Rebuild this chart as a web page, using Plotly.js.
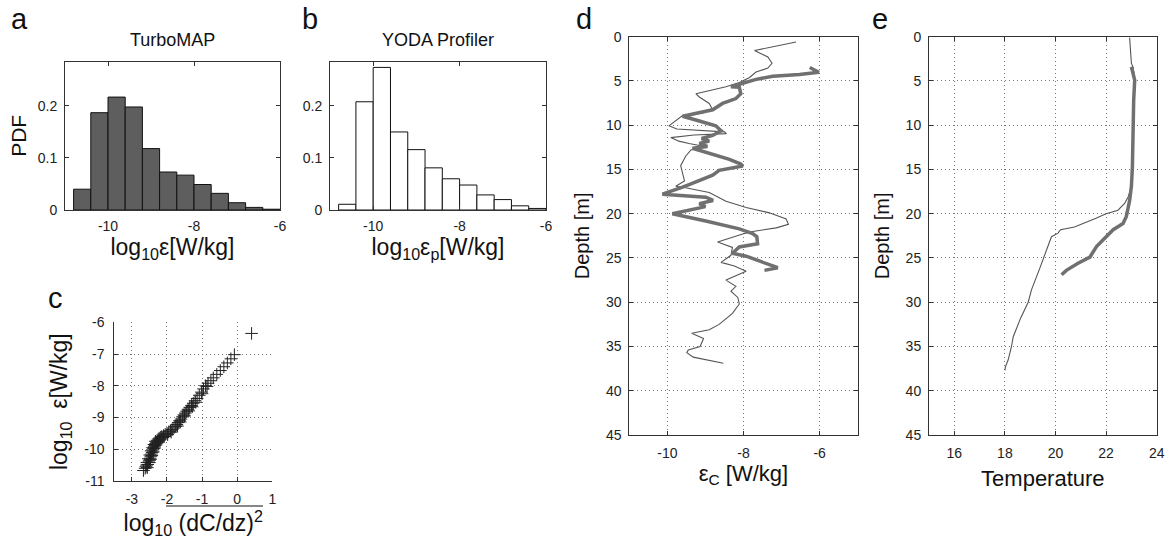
<!DOCTYPE html>
<html>
<head>
<meta charset="utf-8">
<script src="https://cdn.plot.ly/plotly-3.0.1.min.js"></script>
<style>html,body{margin:0;padding:0;background:#fff;}#chart{width:1171px;height:545px;}</style>
</head>
<body>
<div id="chart"></div>
<script>
// ---------- DATA ----------
// Histogram bins (log10 epsilon), centers of 0.4-wide bins
const binCenters = [-10.6, -10.2, -9.8, -9.4, -9.0, -8.6, -8.2, -7.8, -7.4, -7.0, -6.6, -6.2];
const turboPDF   = [0.040, 0.187, 0.217, 0.198, 0.118, 0.073, 0.067, 0.049, 0.032, 0.014, 0.005, 0.0015];
const yodaPDF    = [0.011, 0.208, 0.274, 0.150, 0.116, 0.081, 0.060, 0.048, 0.029, 0.020, 0.008, 0.003];

// Panel c: log10 (dC/dz)^2 vs log10 epsilon
const cGrad = [-2.67,-2.62,-2.60,-2.56,-2.58,-2.55,-2.57,-2.52,-2.50,-2.50,-2.53,-2.48,-2.47,-2.46,-2.49,-2.44,-2.43,-2.42,-2.45,-2.40,-2.39,-2.38,-2.41,-2.36,-2.35,-2.34,-2.37,-2.32,-2.31,-2.30,-2.33,-2.28,-2.27,-2.25,-2.24,-2.22,-2.20,-2.18,-2.15,-2.12,-2.10,-2.08,-2.05,-2.00,-1.98,-1.95,-1.90,-1.88,-1.85,-1.80,-1.76,-1.72,-1.70,-1.68,-1.64,-1.62,-1.60,-1.56,-1.52,-1.50,-1.48,-1.44,-1.40,-1.38,-1.35,-1.30,-1.28,-1.25,-1.20,-1.18,-1.14,-1.08,-1.02,-1.00,-0.96,-0.90,-0.86,-0.83,-0.75,-0.68,-0.58,-0.48,-0.38,-0.28,-0.18,-0.08,0.41];
const cEps  = [-10.67,-10.60,-10.55,-10.58,-10.50,-10.48,-10.42,-10.40,-10.35,-10.42,-10.30,-10.28,-10.32,-10.22,-10.18,-10.15,-10.20,-10.10,-10.05,-10.02,-10.08,-9.98,-9.95,-9.92,-9.96,-9.88,-9.85,-9.82,-9.86,-9.78,-9.75,-9.72,-9.78,-9.68,-9.74,-9.65,-9.70,-9.62,-9.60,-9.63,-9.57,-9.60,-9.53,-9.50,-9.54,-9.45,-9.42,-9.46,-9.38,-9.33,-9.28,-9.22,-9.27,-9.16,-9.10,-9.14,-9.05,-8.98,-8.92,-8.95,-8.86,-8.80,-8.74,-8.79,-8.68,-8.62,-8.66,-8.55,-8.47,-8.52,-8.40,-8.30,-8.20,-8.25,-8.10,-8.00,-8.02,-7.92,-7.84,-7.75,-7.64,-7.52,-7.40,-7.28,-7.15,-7.02,-6.35];

// Panel d: epsilon_C profiles (log10 W/kg) vs depth
const dThinDepth = [0.6,1.56,2.28,3.0,3.55,3.99,4.64,5.18,5.65,6.09,6.45,6.81,7.54,8.26,8.62,8.9,9.71,10.07,10.43,10.75,10.95,11.1,11.4,11.8,12.07,12.43,12.79,13.5,14.57,15.64,16.3,16.89,17.07,17.6,18.6,19.3,19.9,20.6,21.2,21.6,22.0,22.3,23.2,23.8,24.7,25.5,25.9,26.5,27.5,28.2,28.75,29.46,30.2,31.25,32.5,33.1,33.5,34.1,35.0,35.4,35.7,36.2,36.5,36.9];
const dThinEps   = [-6.62,-7.71,-7.36,-7.25,-7.36,-7.67,-7.85,-8.11,-8.46,-8.86,-9.25,-9.16,-8.9,-8.81,-9.08,-9.6,-9.87,-9.96,-9.75,-8.5,-8.45,-9.3,-9.91,-9.7,-9.43,-8.99,-9.38,-9.52,-9.65,-9.6,-9.55,-9.78,-9.52,-8.9,-8.46,-7.93,-7.32,-6.88,-6.82,-7.14,-7.76,-8.02,-8.68,-8.29,-8.33,-8.59,-8.24,-7.93,-8.46,-8.2,-8.33,-8.15,-8.11,-8.29,-8.64,-8.9,-9.36,-9.05,-9.14,-9.45,-9.49,-9.32,-8.96,-8.53];
const dThickDepth = [3.48,4.02,4.28,4.46,4.82,5.36,5.65,5.72,6.45,6.99,7.54,8.26,8.7,8.99,9.53,10.07,10.62,11.16,11.5,11.8,12.07,12.4,12.6,13.32,13.86,14.39,14.6,15.1,15.64,16.71,17.0,17.79,18.14,18.5,18.86,19.2,20.0,20.82,21.71,22.25,22.6,23.4,23.75,24.46,24.8,25.9,26.1,26.4];
const dThickEps   = [-6.26,-6.02,-6.53,-7.23,-7.67,-8.11,-8.33,-8.11,-8.07,-8.2,-8.55,-8.81,-9.25,-9.6,-9.16,-8.73,-8.59,-8.81,-9.1,-8.9,-9.16,-8.95,-9.34,-8.81,-8.37,-8.07,-8.02,-8.64,-8.81,-9.43,-9.6,-10.13,-8.99,-8.8,-9.16,-9.0,-9.87,-8.99,-8.11,-7.76,-7.65,-7.63,-8.11,-8.29,-7.93,-7.23,-7.1,-7.45];

// Panel e: temperature profiles vs depth
const eThinDepth = [0.1,1.5,3.0,3.5,5.0,7.0,10.0,14.0,17.0,18.1,18.8,19.6,20.0,20.5,21.0,21.5,21.8,22.2,22.6,24.5,26.0,28.6,30.0,31.8,33.9,35.0,36.5,37.3,37.7];
const eThinTemp  = [22.93,22.96,23.0,23.07,23.14,23.1,23.07,23.04,23.0,22.87,22.74,22.47,22.0,21.6,21.2,20.75,20.2,20.1,19.84,19.6,19.4,19.05,18.92,18.62,18.33,18.26,18.13,18.02,18.0];
const eThickDepth = [3.4,4.9,7.2,10.9,14.7,16.9,18.5,20.3,21.1,21.8,22.8,23.7,24.9,25.6,26.4,26.9];
const eThickTemp  = [23.0,23.13,23.09,23.07,23.04,23.0,22.93,22.8,22.67,22.28,21.95,21.62,21.36,20.89,20.43,20.24];

// Tick labels
const histXTicks = [-10, -8, -6];
const histXText  = ['-10', '-8', '-6'];
const pdfTicks   = [0, 0.1, 0.2];
const pdfText    = ['0', '0.1', '0.2'];
const cXTicks = [-3, -2, -1, 0, 1];
const cXText  = ['-3', '-2', '-1', '0', '1'];
const cYTicks = [-11, -10, -9, -8, -7, -6];
const cYText  = ['-11', '-10', '-9', '-8', '-7', '-6'];
const dXTicks = [-10, -8, -6];
const dXText  = ['-10', '-8', '-6'];
const depthTicks = [0, 5, 10, 15, 20, 25, 30, 35, 40, 45];
const eXTicks = [16, 18, 20, 22, 24];

// ---------- PLOT ----------
const W = 1171, H = 545;
const FONT = 'Liberation Sans, Arial, Helvetica, sans-serif';
const px = v => v / W;
const py = v => 1 - v / H;

const traces = [
  {type: 'bar', x: binCenters, y: turboPDF, width: 0.4, xaxis: 'x', yaxis: 'y',
   marker: {color: '#5e5e5e', line: {color: '#111', width: 1}}},
  {type: 'bar', x: binCenters, y: yodaPDF, width: 0.4, xaxis: 'x2', yaxis: 'y2',
   marker: {color: '#ffffff', line: {color: '#111', width: 1}}},
  {type: 'scatter', mode: 'markers', x: cGrad, y: cEps, xaxis: 'x3', yaxis: 'y3',
   marker: {symbol: 'cross-thin-open', size: 9, color: '#222', line: {width: 1, color: '#222'}}},
  {type: 'scatter', mode: 'lines', x: dThinEps, y: dThinDepth, xaxis: 'x4', yaxis: 'y4',
   line: {color: '#555', width: 1.1}},
  {type: 'scatter', mode: 'lines', x: dThickEps, y: dThickDepth, xaxis: 'x4', yaxis: 'y4',
   line: {color: '#707070', width: 3.5}},
  {type: 'scatter', mode: 'lines', x: eThinTemp, y: eThinDepth, xaxis: 'x5', yaxis: 'y5',
   line: {color: '#555', width: 1.1}},
  {type: 'scatter', mode: 'lines', x: eThickTemp, y: eThickDepth, xaxis: 'x5', yaxis: 'y5',
   line: {color: '#707070', width: 3.5}}
];

const tickFont = {family: FONT, size: 14, color: '#222'};
const tf = s => ({family: FONT, size: s, color: '#111'});

function ax(extra) {
  return Object.assign({
    showline: true, linecolor: '#333', linewidth: 1, mirror: 'ticks',
    ticks: 'inside', ticklen: 4, tickcolor: '#333', tickfont: tickFont,
    zeroline: false, showgrid: false, fixedrange: true, tickmode: 'array'
  }, extra);
}
const gridOpts = {showgrid: true, gridcolor: '#777', griddash: '1px,3px', gridwidth: 1};

const layout = {
  width: W, height: H,
  margin: {l: 0, r: 0, t: 0, b: 0},
  paper_bgcolor: '#fff', plot_bgcolor: '#fff',
  showlegend: false, bargap: 0,
  font: {family: FONT, color: '#111'},
  xaxis: ax({domain: [px(65), px(280)], range: [-11, -6], anchor: 'y',
    tickvals: histXTicks, ticktext: histXText, ticklabelstandoff: 3,
    title: {text: 'log<sub>10</sub>ε[W/kg]', font: tf(23), standoff: 0}}),
  yaxis: ax({domain: [py(210), py(61.7)], range: [0, 0.285], anchor: 'x',
    tickvals: pdfTicks, ticktext: pdfText, ticklabelstandoff: 4,
    title: {text: 'PDF', font: tf(21), standoff: 5}}),
  xaxis2: ax({domain: [px(330), px(546)], range: [-11, -6], anchor: 'y2',
    tickvals: histXTicks, ticktext: histXText, ticklabelstandoff: 3,
    title: {text: 'log<sub>10</sub>ε<sub>p</sub>[W/kg]', font: tf(23), standoff: 0}}),
  yaxis2: ax({domain: [py(210), py(61.7)], range: [0, 0.285], anchor: 'x2',
    tickvals: pdfTicks, ticktext: pdfText, ticklabelstandoff: 4}),
  xaxis3: ax(Object.assign({domain: [px(114.3), px(272.3)], range: [-3.5, 1], anchor: 'y3', mirror: false,
    tickvals: cXTicks, ticktext: cXText, ticklabelstandoff: 5,
    title: {text: 'log<sub>10</sub> (dC/dz)<sup>2</sup>', font: tf(23), standoff: 0}}, gridOpts)),
  yaxis3: ax(Object.assign({domain: [py(481), py(322.3)], range: [-11, -6], anchor: 'x3', mirror: false,
    tickvals: cYTicks, ticktext: cYText, ticklabelstandoff: 6,
    title: {text: 'log<sub>10</sub>  ε[W/kg]', font: tf(23), standoff: 10}}, gridOpts)),
  xaxis4: ax(Object.assign({domain: [px(629.3), px(857.7)], range: [-11, -5], anchor: 'y4',
    tickvals: dXTicks, ticktext: dXText, ticklabelstandoff: 5,
    title: {text: 'ε<sub>C</sub> [W/kg]', font: tf(22), standoff: 1}}, gridOpts)),
  yaxis4: ax(Object.assign({domain: [py(435), py(36.7)], range: [45, 0], anchor: 'x4',
    tickvals: depthTicks, ticklabelstandoff: 4,
    title: {text: 'Depth [m]', font: tf(20), standoff: 10}}, gridOpts)),
  xaxis5: ax(Object.assign({domain: [px(929), px(1156.7)], range: [15, 24], anchor: 'y5',
    tickvals: eXTicks, ticklabelstandoff: 5,
    title: {text: 'Temperature', font: tf(22), standoff: 10}}, gridOpts)),
  yaxis5: ax(Object.assign({domain: [py(435), py(36.7)], range: [45, 0], anchor: 'x5',
    tickvals: depthTicks, ticklabelstandoff: 4,
    title: {text: 'Depth [m]', font: tf(20), standoff: 10}}, gridOpts)),
  annotations: [
    {text: 'TurboMAP', x: px(172.5), y: py(40), xref: 'paper', yref: 'paper', showarrow: false,
     xanchor: 'center', yanchor: 'middle', font: tf(18)},
    {text: 'YODA Profiler', x: px(438), y: py(40), xref: 'paper', yref: 'paper', showarrow: false,
     xanchor: 'center', yanchor: 'middle', font: tf(18)},
    {text: 'a', x: px(19), y: py(1), xref: 'paper', yref: 'paper', showarrow: false,
     xanchor: 'center', yanchor: 'top', font: tf(29)},
    {text: 'b', x: px(310), y: py(1), xref: 'paper', yref: 'paper', showarrow: false,
     xanchor: 'center', yanchor: 'top', font: tf(29)},
    {text: 'c', x: px(56), y: py(280), xref: 'paper', yref: 'paper', showarrow: false,
     xanchor: 'center', yanchor: 'top', font: tf(29)},
    {text: 'd', x: px(584), y: py(1), xref: 'paper', yref: 'paper', showarrow: false,
     xanchor: 'center', yanchor: 'top', font: tf(29)},
    {text: 'e', x: px(880), y: py(1), xref: 'paper', yref: 'paper', showarrow: false,
     xanchor: 'center', yanchor: 'top', font: tf(29)}
  ],
  shapes: [
    // overline (mean) over (dC/dz)^2 in panel c x-axis title
    {type: 'line', xref: 'paper', yref: 'paper', x0: px(166), x1: px(263), y0: py(506), y1: py(506),
     line: {color: '#111', width: 1.2}}
  ]
};

Plotly.newPlot('chart', traces, layout, {staticPlot: true, displayModeBar: false});
</script>
</body>
</html>
